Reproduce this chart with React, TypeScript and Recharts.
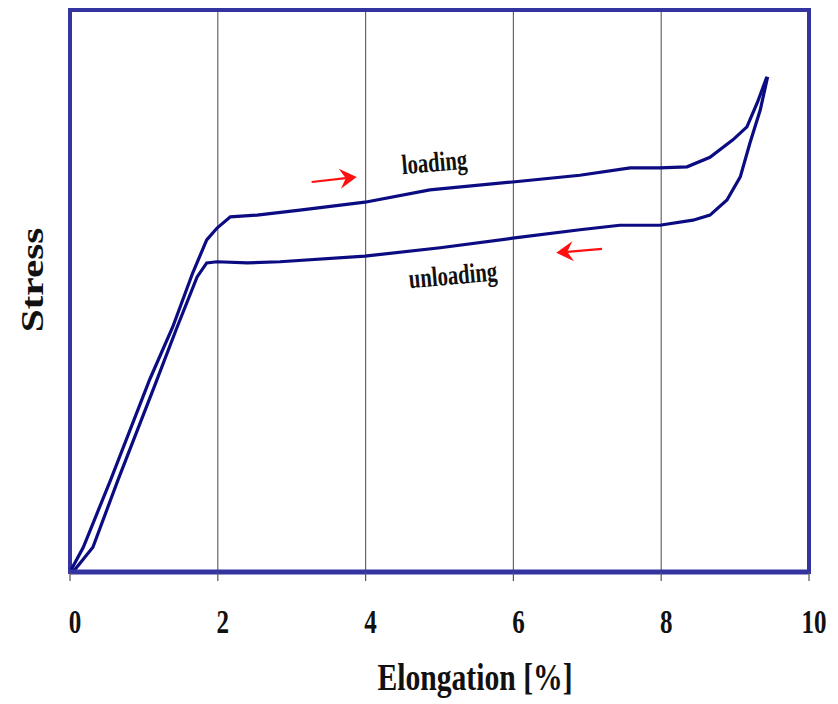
import {
  LineChart,
  Line,
  XAxis,
  YAxis,
  CartesianGrid,
  ReferenceArea,
  ReferenceLine,
  ReferenceDot,
} from "recharts";

// ─── Data (elongation %, stress in arbitrary units 0–100) ────────────────────

const xTicks = [0, 2, 4, 6, 8, 10];

const loadingElong = [0, 0.18, 0.55, 1.08, 1.39, 1.66, 1.85, 1.99, 2.17, 2.53, 3.11, 3.99, 4.87, 5.99, 6.9, 7.58, 7.98, 8.35, 8.66, 8.97, 9.16, 9.3, 9.43];
const loadingStress = [0, 4.4, 16.4, 34.3, 43.6, 53.2, 59.1, 61.2, 63.2, 63.5, 64.4, 65.8, 68.0, 69.4, 70.6, 71.9, 71.9, 72.1, 73.8, 76.9, 79.2, 83.5, 88.1];

const unloadingElong = [9.44, 9.34, 9.2, 9.07, 8.89, 8.66, 8.43, 7.98, 7.44, 6.9, 5.99, 5.01, 3.99, 2.84, 2.4, 1.99, 1.85, 1.72, 1.45, 1.15, 0.65, 0.31, 0.07, 0];
const unloadingStress = [88.1, 82.2, 76.3, 70.3, 66.2, 63.5, 62.6, 61.7, 61.7, 60.9, 59.4, 57.7, 56.2, 55.2, 55.0, 55.2, 55.0, 52.5, 43.6, 33.3, 16.4, 4.4, 0.5, 0];

const loading = loadingElong.map((e, i) => ({ e, s: loadingStress[i] }));
const unloading = unloadingElong.map((e, i) => ({ e, s: unloadingStress[i] }));

const FONT = "'Liberation Serif', 'DejaVu Serif', serif";
const NAVY = "#0b0b82";
const FRAME = "#3434a0";

// ─── Custom pieces ───────────────────────────────────────────────────────────

function Tick({ x, y, payload }: any) {
  return (
    <text
      transform={`translate(${x + 5},${y + 50}) scale(0.76,1)`}
      textAnchor="middle"
      fontFamily={FONT}
      fontWeight="bold"
      fontSize={33}
      fill="#111"
    >
      {payload.value}
    </text>
  );
}

// axis titles, both drawn from the x axis label slot
function Titles() {
  return (
    <g fontFamily={FONT} fontWeight="bold" fill="#111">
      <text transform="translate(475,690) scale(0.78,1)" textAnchor="middle" fontSize={38}>
        Elongation [%]
      </text>
      <text transform="translate(43,280) rotate(-90) scale(1.29,1)" textAnchor="middle" fontSize={32}>
        Stress
      </text>
    </g>
  );
}

function Arrow({ x1, y1, x2, y2 }: any) {
  const dx = x2 - x1;
  const dy = y2 - y1;
  const len = Math.sqrt(dx * dx + dy * dy);
  const ux = dx / len;
  const uy = dy / len;
  const px = -uy;
  const py = ux;
  const hl = 17;
  const hw = 10;
  const bx = x2 - ux * hl;
  const by = y2 - uy * hl;
  const nx = x2 - ux * hl * 0.65;
  const ny = y2 - uy * hl * 0.65;
  return (
    <g>
      <line x1={x1} y1={y1} x2={nx} y2={ny} stroke="#ff1010" strokeWidth={2.2} />
      <polygon
        points={`${x2},${y2} ${bx + px * hw},${by + py * hw} ${nx},${ny} ${bx - px * hw},${by - py * hw}`}
        fill="#ff1010"
      />
    </g>
  );
}

function CurveLabel(text: string) {
  return ({ cx, cy }: any) => (
    <text
      transform={`translate(${cx},${cy}) rotate(-5) scale(0.74,1)`}
      textAnchor="middle"
      dominantBaseline="central"
      fontFamily={FONT}
      fontWeight="bold"
      fontSize={28}
      fill="#111"
    >
      {text}
    </text>
  );
}

// ─── Chart ───────────────────────────────────────────────────────────────────

export default function App() {
  return (
    <div style={{ position: "absolute", left: 0, top: 0, background: "#fff" }}>
      <LineChart
        width={838}
        height={704}
        margin={{ top: 10, right: 29, left: 70, bottom: 72 }}
      >
        <CartesianGrid horizontal={false} stroke="#666" strokeWidth={1.2} />
        <XAxis
          type="number"
          dataKey="e"
          domain={[0, 10]}
          ticks={xTicks}
          allowDataOverflow
          height={60}
          axisLine={{ stroke: FRAME, strokeWidth: 5 }}
          tickLine={{ stroke: "#555", strokeWidth: 1.2 }}
          tickSize={9}
          tick={<Tick />}
          label={{ content: <Titles /> }}
        />
        <YAxis
          type="number"
          dataKey="s"
          domain={[0, 100]}
          width={0}
          tick={false}
          axisLine={false}
          tickLine={false}
        />
        <ReferenceArea
          x1={0}
          x2={10}
          y1={0}
          y2={100}
          fill="none"
          stroke={FRAME}
          strokeWidth={4}
          ifOverflow="visible"
        />
        <Line
          data={loading}
          dataKey="s"
          type="linear"
          stroke={NAVY}
          strokeWidth={3.2}
          dot={false}
          isAnimationActive={false}
        />
        <Line
          data={unloading}
          dataKey="s"
          type="linear"
          stroke={NAVY}
          strokeWidth={3.2}
          dot={false}
          isAnimationActive={false}
        />
        <ReferenceLine
          segment={[{ x: 3.27, y: 69.4 }, { x: 3.88, y: 70.3 }]}
          shape={<Arrow />}
          ifOverflow="visible"
        />
        <ReferenceLine
          segment={[{ x: 7.2, y: 57.5 }, { x: 6.58, y: 56.8 }]}
          shape={<Arrow />}
          ifOverflow="visible"
        />
        <ReferenceDot x={4.93} y={73.0} r={0} shape={CurveLabel("loading")} ifOverflow="visible" />
        <ReferenceDot x={5.18} y={52.9} r={0} shape={CurveLabel("unloading")} ifOverflow="visible" />
      </LineChart>
    </div>
  );
}
